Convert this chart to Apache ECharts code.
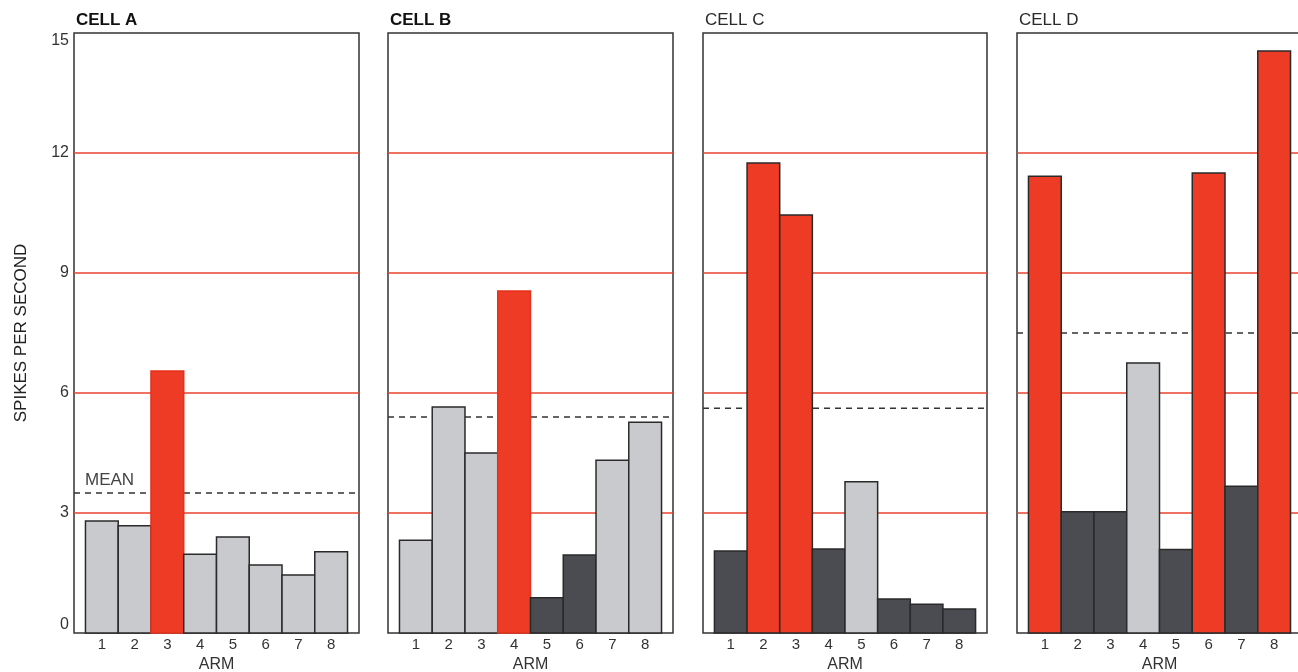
<!DOCTYPE html>
<html>
<head>
<meta charset="utf-8">
<title>Spikes per second by arm — cells A–D</title>
<script src="https://cdn.jsdelivr.net/npm/echarts@6/dist/echarts.min.js"></script>
<style>
  html, body { margin: 0; padding: 0; background: #ffffff; }
  #chart { width: 1298px; height: 672px; }
</style>
</head>
<body>
<div id="chart"></div>
<script>
// Arms of the maze (x categories)
const arms = [1, 2, 3, 4, 5, 6, 7, 8];
const armTicks = ['1', '2', '3', '4', '5', '6', '7', '8'];

// Firing rate (spikes per second) for each arm, per cell
const cellA = [2.8, 2.68, 6.55, 1.97, 2.4, 1.7, 1.45, 2.03];
const cellB = [2.32, 5.65, 4.5, 8.55, 0.88, 1.95, 4.32, 5.27];
const cellC = [2.05, 11.75, 10.45, 2.1, 3.78, 0.85, 0.72, 0.6];
const cellD = [11.42, 3.03, 3.03, 6.75, 2.09, 11.5, 3.67, 14.55];

// Shade of each bar: 'r' = red, 'l' = light grey, 'd' = dark grey
const shadeA = ['l', 'l', 'r', 'l', 'l', 'l', 'l', 'l'];
const shadeB = ['l', 'l', 'l', 'r', 'd', 'd', 'l', 'l'];
const shadeC = ['d', 'r', 'r', 'd', 'l', 'd', 'd', 'd'];
const shadeD = ['r', 'd', 'd', 'l', 'd', 'r', 'd', 'r'];

// Mean firing rate of each cell (dashed line)
const means = [3.5, 5.4, 5.62, 7.5];

const cellNames = ['CELL A', 'CELL B', 'CELL C', 'CELL D'];
const yTicks = [0, 3, 6, 9, 12, 15];

const rates = [cellA, cellB, cellC, cellD];
const shades = [shadeA, shadeB, shadeC, shadeD];

const FILL = { r: '#ee3b25', l: '#c9cacd', d: '#4a4c51' };
const RED_LINE = '#e8432e';
const INK = '#2a2a2a';
const FONT = 'Liberation Sans, Arial, sans-serif';

// panel frames
const panels = [
  { left: 74, width: 285 },
  { left: 388, width: 285 },
  { left: 703, width: 284 },
  { left: 1017, width: 285 }
];
const TOP = 33, BOTTOM = 39;

const grid = [], xAxis = [], yAxis = [], series = [], title = [];

panels.forEach((p, i) => {
  grid.push({
    left: p.left, width: p.width, top: TOP, bottom: BOTTOM,
    show: true, borderColor: '#333', borderWidth: 1.5, backgroundColor: '#fff',
    containLabel: false, outerBoundsMode: 'none'
  });

  xAxis.push({
    type: 'value', gridIndex: i, min: 0.15, max: 8.85,
    axisLine: { show: false }, axisTick: { show: false }, splitLine: { show: false },
    axisLabel: {
      customValues: arms,
      formatter: v => armTicks[arms.indexOf(v)] ?? '',
      color: '#333', fontSize: 15, margin: 4, fontFamily: FONT
    },
    name: 'ARM', nameLocation: 'middle', nameGap: 17,
    nameTextStyle: { color: '#333', fontSize: 16, fontFamily: FONT }
  });

  yAxis.push({
    type: 'value', gridIndex: i, min: 0, max: 15, interval: 3,
    axisLine: { show: false }, axisTick: { show: false },
    splitLine: {
      show: true,
      lineStyle: {
        color: yTicks.map(t => (t === 0 || t === 15) ? 'rgba(0,0,0,0)' : RED_LINE),
        width: 1.6
      }
    },
    axisLabel: {
      show: i === 0, color: '#333', fontSize: 16, margin: 5,
      verticalAlignMinLabel: 'bottom', verticalAlignMaxLabel: 'top',
      fontFamily: FONT
    },
    name: i === 0 ? 'SPIKES PER SECOND' : '',
    nameLocation: 'middle', nameGap: 44, nameRotate: 90,
    nameTextStyle: { color: '#222', fontSize: 17, fontFamily: FONT }
  });

  title.push({
    text: cellNames[i], left: p.left + 2, top: 11, padding: 0,
    textStyle: {
      fontSize: 17, fontWeight: i < 2 ? 'bold' : 'normal',
      color: i < 2 ? '#111' : '#2a2a2a',
      fontFamily: FONT, lineHeight: 18
    }
  });

  // dashed mean line (behind the bars)
  series.push({
    type: 'custom', xAxisIndex: i, yAxisIndex: i, z: 1, silent: true,
    data: [[1, means[i]]],
    renderItem(params, api) {
      const cs = params.coordSys;
      const y = api.coord([1, api.value(1)])[1];
      const children = [{
        type: 'line',
        shape: { x1: cs.x, y1: y, x2: cs.x + cs.width, y2: y },
        style: { stroke: '#333', lineWidth: 1.6, lineDash: [6, 5] }
      }];
      if (i === 0) {
        children.push({
          type: 'text', x: cs.x + 11, y: y - 4,
          style: {
            text: 'MEAN', fill: '#444', fontSize: 17, fontFamily: FONT,
            align: 'left', verticalAlign: 'bottom'
          }
        });
      }
      return { type: 'group', children };
    }
  });

  // bars
  series.push({
    type: 'custom', xAxisIndex: i, yAxisIndex: i, z: 2, silent: true,
    data: arms.map((a, k) => [a, rates[i][k], shades[i][k]]),
    renderItem(params, api) {
      const x = api.value(0), v = api.value(1);
      const shade = shades[i][params.dataIndex];
      const tl = api.coord([x - 0.5, v]);
      const br = api.coord([x + 0.5, 0]);
      const redNoEdge = shade === 'r' && i < 2;
      return {
        type: 'rect',
        shape: { x: tl[0], y: tl[1], width: br[0] - tl[0], height: br[1] - tl[1] },
        style: {
          fill: FILL[shade],
          stroke: redNoEdge ? '#e2321d' : INK,
          lineWidth: 1.5
        }
      };
    }
  });
});

const chart = echarts.init(document.getElementById('chart'), null, { renderer: 'canvas' });
chart.setOption({
  backgroundColor: '#ffffff',
  animation: false,
  title, grid, xAxis, yAxis, series
});
</script>
</body>
</html>
